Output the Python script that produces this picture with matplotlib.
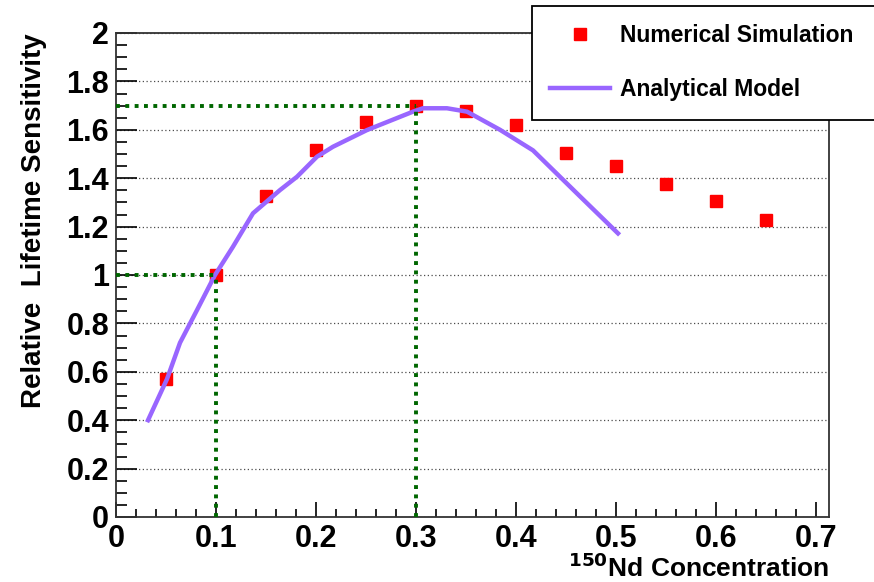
import matplotlib
matplotlib.use("Agg")
import matplotlib.pyplot as plt
from matplotlib.ticker import MultipleLocator

plt.rcParams['font.family'] = ['Liberation Sans', 'DejaVu Sans']
plt.rcParams['font.weight'] = 'bold'

# Numerical simulation points
x_sim = [0.05, 0.10, 0.15, 0.20, 0.25, 0.30, 0.35, 0.40, 0.45, 0.50, 0.55, 0.60, 0.65]
y_sim = [0.57, 1.00, 1.326, 1.517, 1.633, 1.698, 1.678, 1.62, 1.503, 1.450, 1.376, 1.306, 1.227]

# Analytical model curve
x_model = [0.032, 0.051, 0.064, 0.081, 0.099, 0.117, 0.137, 0.164, 0.181, 0.201,
           0.217, 0.251, 0.297, 0.307, 0.331, 0.351, 0.384, 0.417, 0.461, 0.502]
y_model = [0.40, 0.57, 0.72, 0.855, 1.0, 1.117, 1.255, 1.351, 1.406, 1.489,
           1.530, 1.599, 1.675, 1.689, 1.689, 1.675, 1.600, 1.515, 1.337, 1.172]

# reference guides (x, y)
guides = [(0.1, 1.0), (0.3, 1.7)]

fig = plt.figure(figsize=(8.74, 5.82), dpi=100)
ax = fig.add_axes([116/874, 1 - 517/582, (829 - 116)/874, (517 - 33)/582])

sim, = ax.plot(x_sim, y_sim, linestyle='none', marker='s', markersize=8.5,
               color='#ff0000', zorder=3, label='Numerical Simulation')
model, = ax.plot(x_model, y_model, color='#9966ff', linewidth=3.2,
                 zorder=4, label='Analytical Model')

for gx, gy in guides:
    ax.plot([0, gx], [gy, gy], color='#006600', linewidth=2.8,
            linestyle=(0, (1, 1.4)), zorder=5)
    ax.plot([gx, gx], [0, gy], color='#006600', linewidth=2.8,
            linestyle=(0, (1, 1.4)), zorder=5)

ax.set_xlim(0, 0.713)
ax.set_ylim(0, 2)
ax.xaxis.set_major_locator(MultipleLocator(0.1))
ax.xaxis.set_minor_locator(MultipleLocator(0.02))
ax.yaxis.set_major_locator(MultipleLocator(0.2))
ax.yaxis.set_minor_locator(MultipleLocator(0.05))
ax.xaxis.set_major_formatter(plt.FuncFormatter(lambda v, p: f"{v:g}"))
ax.yaxis.set_major_formatter(plt.FuncFormatter(lambda v, p: f"{v:g}"))

ax.tick_params(axis='x', which='major', direction='in', length=11, width=1.2, pad=5,
               labelsize=22, top=False)
ax.tick_params(axis='x', which='minor', direction='in', length=6, width=1.2, top=False)
ax.tick_params(axis='y', which='major', direction='in', length=15, width=1.2, pad=5,
               labelsize=22, right=False)
ax.tick_params(axis='y', which='minor', direction='in', length=8, width=1.2, right=False)
for lab in ax.get_xticklabels() + ax.get_yticklabels():
    lab.set_fontweight('bold')

ax.grid(True, axis='y', which='major', color='0.3', linestyle=(0, (1, 2)), linewidth=0.9)
for s in ax.spines.values():
    s.set_linewidth(1.3)
    s.set_color('#333333')

ax.set_xlabel(r'$^{\mathbf{150}}$Nd Concentration', fontsize=19, fontweight='bold',
              loc='right', labelpad=0)
ax.set_ylabel('Relative  Lifetime Sensitivity', fontsize=20, fontweight='bold',
              loc='top', labelpad=14)

leg = fig.legend(handles=[sim, model], loc='upper left',
                 bbox_to_anchor=(532/874, 1 - 6/582, (890 - 532)/874, 0.0),
                 mode='expand', borderaxespad=0, fontsize=16.5, numpoints=1,
                 handlelength=2.6, handletextpad=0.45, borderpad=0.8,
                 labelspacing=1.35, fancybox=False, framealpha=1,
                 edgecolor='black')
leg.get_frame().set_linewidth(1.3)
for t in leg.get_texts():
    t.set_fontweight('bold')

fig.savefig('out.png', dpi=100)
